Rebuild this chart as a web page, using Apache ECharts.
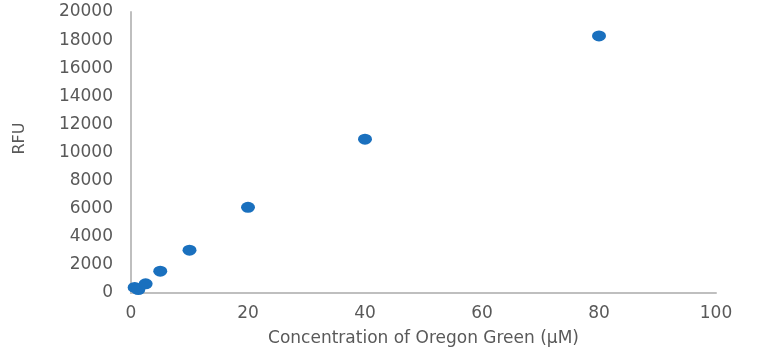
<!DOCTYPE html>
<html>
<head>
<meta charset="utf-8">
<script src="https://cdn.jsdelivr.net/npm/echarts@6/dist/echarts.min.js"></script>
<style>
  html, body { margin: 0; padding: 0; background: #fff; }
  #chart { width: 767px; height: 353px; }
</style>
</head>
<body>
<div id="chart"></div>
<script>
// concentration (µM) and fluorescence (RFU)
const concentrations = [0.625, 1.25, 2.5, 5, 10, 20, 40, 80]
const rfuValues = [400, 250, 650, 1550, 3050, 6100, 10950, 18300]

const xAxisName = 'Concentration of Oregon Green (μM)'
const yAxisName = 'RFU'

const chart = echarts.init(document.getElementById('chart'))
const textColor = '#595959'
const font = 'DejaVu Sans'

chart.setOption({
  animation: false,
  grid: { left: 131, right: 51, top: 12, bottom: 60 },
  xAxis: {
    type: 'value',
    min: 0,
    max: 100,
    interval: 20,
    name: xAxisName,
    nameLocation: 'middle',
    nameGap: 37,
    nameTextStyle: { color: textColor, fontSize: 17, fontFamily: font },
    axisLine: { lineStyle: { color: '#bfbfbf', width: 2 } },
    axisTick: { show: false },
    splitLine: { show: false },
    axisLabel: { color: textColor, fontSize: 17, fontFamily: font, margin: 12 }
  },
  yAxis: {
    type: 'value',
    min: 0,
    max: 20000,
    interval: 2000,
    name: yAxisName,
    nameLocation: 'middle',
    nameGap: 103,
    nameTextStyle: { color: textColor, fontSize: 16, fontFamily: font, padding: [0, 0, 0, 28] },
    axisLine: { show: true, lineStyle: { color: '#bfbfbf', width: 2 } },
    axisTick: { show: false },
    splitLine: { show: false },
    axisLabel: {
      color: textColor, fontSize: 17, fontFamily: font, margin: 18,
      formatter: v => String(v)
    }
  },
  series: [{
    type: 'scatter',
    data: concentrations.map((c, i) => [c, rfuValues[i]]),
    symbol: 'circle',
    symbolSize: [14, 11],
    itemStyle: { color: '#1a70be', opacity: 1 }
  }]
})
</script>
</body>
</html>
